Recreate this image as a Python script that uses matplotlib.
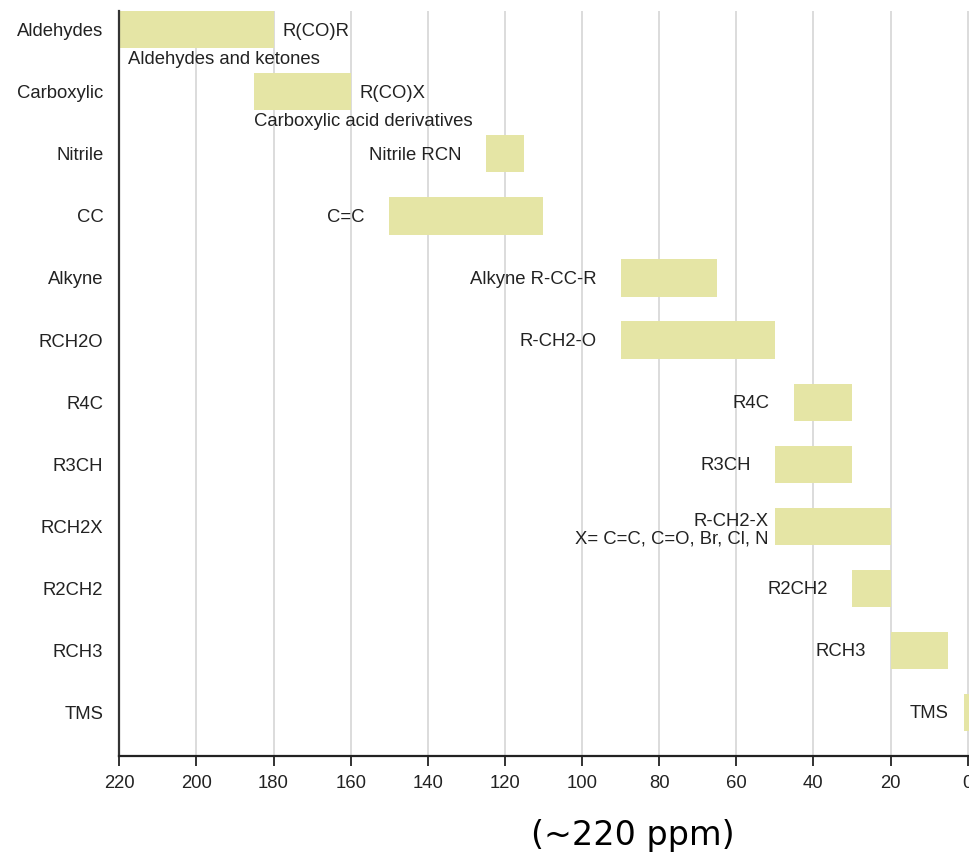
import numpy as np
import matplotlib.pyplot as plt

# 13C NMR chemical shift ranges (ppm), high end -> low end
categories = ['Aldehydes', 'Carboxylic', 'Nitrile', 'CC', 'Alkyne', 'RCH2O',
              'R4C', 'R3CH', 'RCH2X', 'R2CH2', 'RCH3', 'TMS']
shift_high = [220, 185, 125, 150, 90, 90, 45, 50, 50, 30, 20, 1]
shift_low = [180, 160, 115, 110, 65, 50, 30, 30, 20, 20, 5, -1]
bar_labels = ['R(CO)R', 'R(CO)X', 'Nitrile RCN', 'C=C', 'Alkyne R-CC-R', 'R-CH2-O',
              'R4C', 'R3CH', 'R-CH2-X\nX= C=C, C=O, Br, Cl, N', 'R2CH2', 'RCH3', 'TMS']
sub_labels = {0: 'Aldehydes and ketones', 1: 'Carboxylic acid derivatives'}
ppm_ticks = np.arange(0, 221, 20)

plt.rcParams['font.family'] = ['Liberation Sans', 'DejaVu Sans']
text_col = '#222222'
bar_col = '#e5e5a5'
fs = 13.3

fig = plt.figure(figsize=(9.7, 8.65), dpi=100)
ax = fig.add_axes([119.3 / 970, 1 - 756 / 865, (970 - 119.3) / 970, (756 - 11) / 865])

y = np.arange(len(categories))
widths = np.array(shift_high) - np.array(shift_low)
ax.barh(y, widths, left=shift_low, height=0.6, color=bar_col, zorder=2)

# labels next to each bar
for i, txt in enumerate(bar_labels):
    if i < 2:
        # written to the right (low ppm side) of the bar
        ax.annotate(txt, (shift_low[i], y[i]), xytext=(6.3, -1.5), textcoords='offset points',
                    ha='left', va='center', fontsize=fs, color=text_col)
        ax.annotate(sub_labels[i], (shift_high[i], y[i]), xytext=(6.5 if i == 0 else 0, -21.5),
                    textcoords='offset points', ha='left', va='center', fontsize=fs, color=text_col)
    else:
        gap, dy = 17.5, -1
        if txt.startswith('R-CH2-X'):
            gap, dy = 4.3, -2.8
        elif txt == 'TMS':
            gap = 10.8
        ax.annotate(txt, (shift_high[i], y[i]), xytext=(-gap, dy), textcoords='offset points',
                    ha='right', va='center', fontsize=fs, color=text_col,
                    multialignment='right', linespacing=1.0)

ax.set_xlim(220, -0.6)
ax.set_ylim(11.7, -0.3)
ax.set_xticks(ppm_ticks)
ax.set_yticks(y)
ax.set_yticklabels(categories)
ax.tick_params(axis='y', length=0, pad=11.5, labelsize=fs, labelcolor=text_col)
ax.tick_params(axis='x', length=7.5, width=1.3, pad=6, labelsize=fs, labelcolor=text_col,
               color='#222222')
ax.grid(axis='x', color='#d9d9d9', linewidth=1.3, zorder=0)
ax.set_axisbelow(True)
for s in ['top', 'right']:
    ax.spines[s].set_visible(False)
ax.spines['left'].set_linewidth(1.6)
ax.spines['left'].set_color('#333333')
ax.spines['bottom'].set_linewidth(1.6)
ax.spines['bottom'].set_color('#222222')

fig.text(633 / 970, 1 - 836 / 865, '(~220 ppm)', ha='center', va='center',
         fontsize=24, family='DejaVu Sans', color='black')

fig.savefig('out.png', dpi=100)
